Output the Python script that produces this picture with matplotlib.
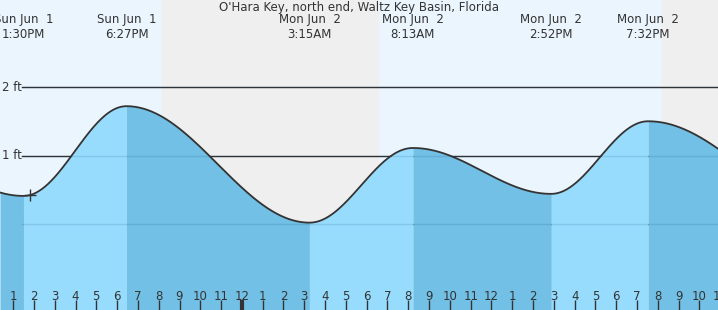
import numpy as np
import matplotlib
matplotlib.use("Agg")
import matplotlib.pyplot as plt

# tide extremes, hours from midnight Jun 1 (first and last are off-chart guesses)
ext_hours = [7.5, 13.5, 18.45, 27.25, 32.22, 38.87, 43.53, 52.5]
ext_feet = [1.0, 0.41, 1.72, 0.02, 1.11, 0.44, 1.50, 0.20]
ext_labels = ["Sun Jun  1\n1:30PM", "Sun Jun  1\n6:27PM", "Mon Jun  2\n3:15AM",
              "Mon Jun  2\n8:13AM", "Mon Jun  2\n2:52PM", "Mon Jun  2\n7:32PM"]
# sunset / sunrise
night_spans = [(20.16, 30.54), (44.2, 50.0)]
ft_ticks = [0, 1, 2]
title = "O'Hara Key, north end, Waltz Key Basin, Florida"

x0, x1 = 12.37, 46.89
y0, y1 = -1.255, 3.27

day_col = "#ebf5fe"
night_col = "#efefef"
rise_col = "#97dcfd"
fall_col = "#72c0e5"
txt_col = "#333333"

# cosine interpolation between highs and lows
t = np.linspace(x0, x1, 1500)
h = np.zeros_like(t)
for i in range(len(ext_hours) - 1):
    a, b = ext_hours[i], ext_hours[i + 1]
    m = (t >= a) & (t <= b)
    f = (1 - np.cos(np.pi * (t[m] - a) / (b - a))) / 2
    h[m] = ext_feet[i] + (ext_feet[i + 1] - ext_feet[i]) * f

fig = plt.figure(figsize=(7.18, 3.10), dpi=100)
ax = fig.add_axes([0, 0, 1, 1])
ax.set_xlim(x0, x1)
ax.set_ylim(y0, y1)
ax.axis("off")

ax.axvspan(x0, x1, color=day_col, zorder=0)
for a, b in night_spans:
    ax.axvspan(a, b, color=night_col, zorder=0)

px = (x1 - x0) / 718.0
dy = (y1 - y0) / 310
for v in ft_ticks:
    ax.plot([x0 + 22 * px, x1], [v, v], color="#333333", lw=1, zorder=1)
    ax.text(x0 + 2 * px, v, "%d ft" % v, color=txt_col, fontsize=8.5,
            va="center", ha="left", zorder=1)

# rising = light, falling = dark
for i in range(len(ext_hours) - 1):
    a, b = ext_hours[i], ext_hours[i + 1]
    m = (t >= a - 0.01) & (t <= b + 0.01)
    col = rise_col if ext_feet[i + 1] > ext_feet[i] else fall_col
    ax.fill_between(t[m], y0, h[m], color=col, lw=0, zorder=2)

for v in ft_ticks:
    ax.plot([x0 + 22 * px, x1], [v, v], color=(0, 0.2, 0.4, 0.12), lw=1, zorder=3)

ax.plot(t, h, color="#333333", lw=1.3, zorder=4)
ax.plot([13.8], [np.interp(13.8, t, h)], marker="+", ms=9, mew=1,
        color="#333333", zorder=5)

ax.text((x0 + x1) / 2, y1 - 7.5 * dy, title, color=txt_col,
        fontsize=8.5, ha="center", va="center")
for hr, lab in zip(ext_hours[1:-1], ext_labels):
    ax.text(hr, y1 - 27 * dy, lab, color=txt_col, fontsize=8.5,
            ha="center", va="center", linespacing=1.1)

# hour ticks along bottom
for hr in range(13, 48):
    lab = hr % 12
    if lab == 0:
        lab = 12
    lw = 3 if hr % 24 == 0 else 1
    ax.plot([hr, hr], [y0, y0 + 10 * dy], color="#333333", lw=lw, zorder=5,
            solid_capstyle="butt")
    ax.text(hr, y0 + 14 * dy, str(lab), color=txt_col, fontsize=8.5,
            ha="center", va="center", zorder=5)

fig.savefig("out.png", dpi=100)
